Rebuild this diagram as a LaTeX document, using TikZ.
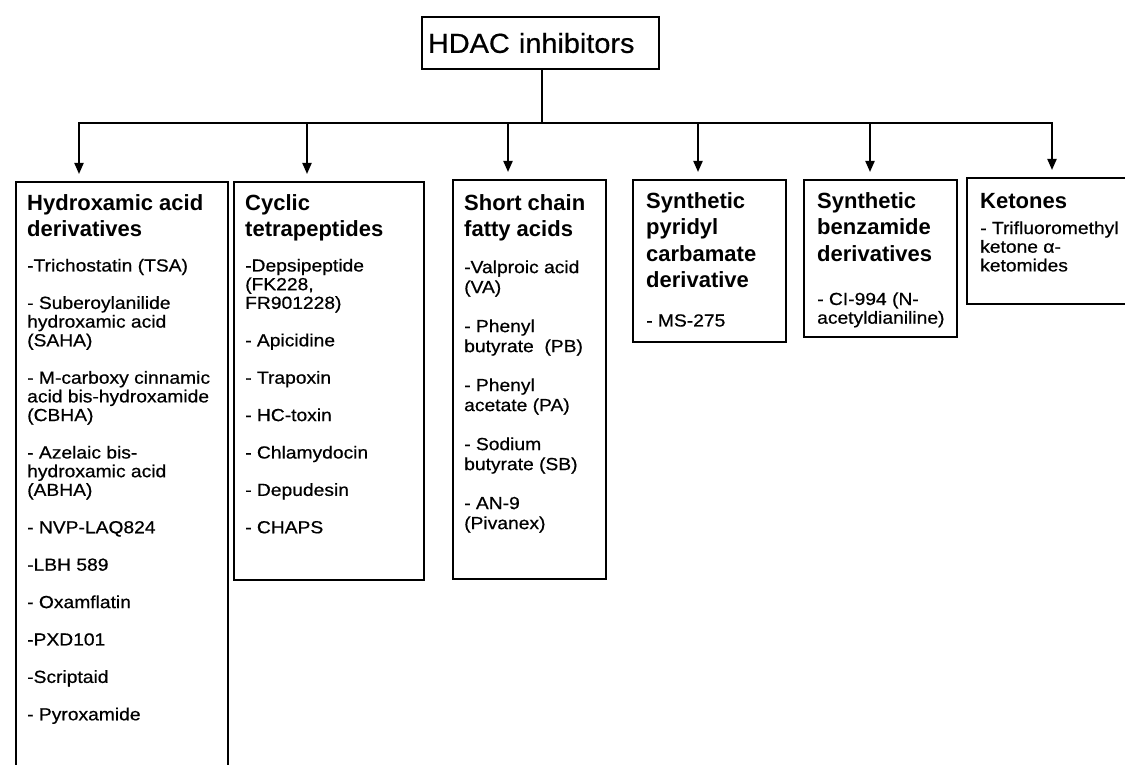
\documentclass[tikz,border=0pt]{standalone}
\usepackage{fontspec}
\setmainfont{Liberation Sans}
\newfontfamily\bodyfont{Liberation Sans}[FakeStretch=1.1,FakeBold=0.6]
\newfontfamily\titlefont{Liberation Sans}[FakeStretch=1.05,FakeBold=0.6]
\usetikzlibrary{arrows.meta,calc}
\newcommand\hf{\raggedright\fontsize{22pt}{26.5pt}\selectfont\bfseries}
\newcommand\bfnt{\bodyfont\mdseries\fontsize{17.5pt}{18.7pt}\selectfont\parskip=18.7pt\relax}
\newcommand\hgap[1]{\par\vspace{\dimexpr #1pt-37.4pt\relax}\bfnt}
\tikzset{
  box/.style={draw, line width=2pt, inner sep=0pt, anchor=north west},
  txt/.style={inner sep=0pt, anchor=base west},
  conn/.style={line width=2pt},
  arr/.style={line width=2pt, -{Triangle[length=11pt,width=9pt]}, shorten >=7pt},
}
\begin{document}
\begin{tikzpicture}[x=1pt,y=-1pt]
\useasboundingbox (0,0) rectangle (1125,765);
% title
\node[box, minimum width=237pt, minimum height=52pt, text width=225pt, inner xsep=6pt,
      align=left, font=\titlefont\fontsize{27.5pt}{30pt}\selectfont] (title) at (421,16) {HDAC inhibitors};
% category boxes
\node[box, minimum width=212pt, minimum height=600pt] (h1) at (15,181) {};
\node[box, minimum width=190pt, minimum height=398pt] (h2) at (233,181) {};
\node[box, minimum width=153pt, minimum height=399pt] (h3) at (452,179) {};
\node[box, minimum width=153pt, minimum height=162pt] (h4) at (632,179) {};
\node[box, minimum width=153pt, minimum height=157pt] (h5) at (803,179) {};
\node[box, minimum width=170pt, minimum height=126pt] (h6) at (966,177) {};
% texts
\node[txt] (t1) at ($(h1.north west)+(12,29)$) {\parbox[t]{210pt}{\hf Hydroxamic acid\\derivatives\hgap{35}
-Trichostatin (TSA)\par
- Suberoylanilide\\hydroxamic acid\\(SAHA)\par
- M-carboxy cinnamic\\acid bis-hydroxamide\\(CBHA)\par
- Azelaic bis-\\hydroxamic acid\\(ABHA)\par
- NVP-LAQ824\par
-LBH 589\par
- Oxamflatin\par
-PXD101\par
-Scriptaid\par
- Pyroxamide}};
\node[txt] (t2) at ($(h2.north west)+(12,29)$) {\parbox[t]{180pt}{\hf Cyclic\\tetrapeptides\hgap{35}
-Depsipeptide\\(FK228,\\FR901228)\par
- Apicidine\par
- Trapoxin\par
- HC-toxin\par
- Chlamydocin\par
- Depudesin\par
- CHAPS}};
\node[txt] (t3) at ($(h3.north west)+(12,31)$) {\parbox[t]{150pt}{\hf Short chain\\fatty acids\hgap{35}\baselineskip=20pt\parskip=19pt
-Valproic acid\\(VA)\par
- Phenyl\\butyrate\ \ (PB)\par
- Phenyl\\acetate (PA)\par
- Sodium\\butyrate (SB)\par
- AN-9\\(Pivanex)}};
\node[txt] (t4) at ($(h4.north west)+(14,29)$) {\parbox[t]{150pt}{\hf Synthetic\\pyridyl\\carbamate\\derivative\hgap{39}
- MS-275}};
\node[txt] (t5) at ($(h5.north west)+(14,29)$) {\parbox[t]{150pt}{\hf Synthetic\\benzamide\\derivatives\hgap{44}
- CI-994 (N-\\acetyldianiline)}};
\node[txt] (t6) at ($(h6.north west)+(14,31)$) {\parbox[t]{150pt}{\hf Ketones\hgap{26}
- Trifluoromethyl\\ketone α-\\ketomides}};
% connectors
\coordinate (j) at (542,123);
\coordinate (a1) at (79,123);
\coordinate (a2) at (307,123);
\coordinate (a3) at (508,123);
\coordinate (a4) at (698,123);
\coordinate (a5) at (870,123);
\coordinate (a6) at (1052,123);
\draw[conn] (title.south -| j) -- (j);
\draw[arr] (j) -| (a1 |- h1.north);
\draw[arr] (j) -| (a6 |- h6.north);
\draw[arr] (a2) -- (a2 |- h2.north);
\draw[arr] (a3) -- (a3 |- h3.north);
\draw[arr] (a4) -- (a4 |- h4.north);
\draw[arr] (a5) -- (a5 |- h5.north);
\end{tikzpicture}
\end{document}
